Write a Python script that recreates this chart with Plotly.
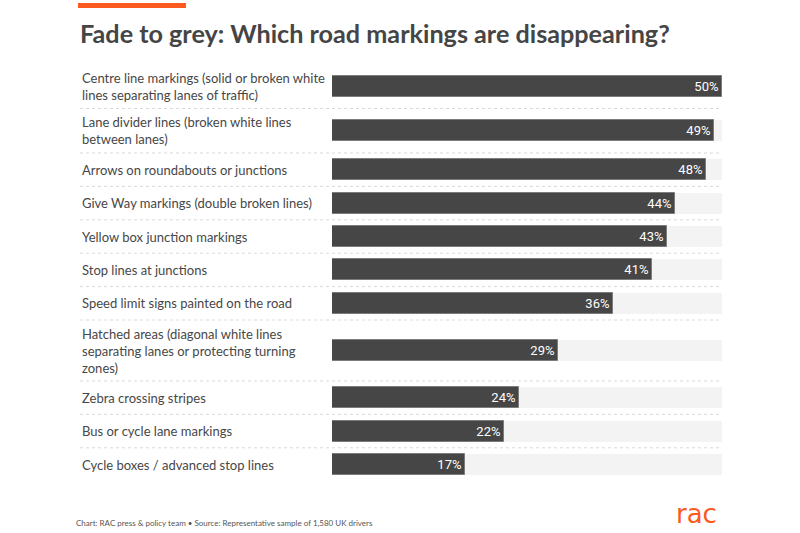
import plotly.graph_objects as go

# ---- data ----
categories = [
    "Centre line markings (solid or broken white<br>lines separating lanes of traffic)",
    "Lane divider lines (broken white lines<br>between lanes)",
    "Arrows on roundabouts or junctions",
    "Give Way markings (double broken lines)",
    "Yellow box junction markings",
    "Stop lines at junctions",
    "Speed limit signs painted on the road",
    "Hatched areas (diagonal white lines<br>separating lanes or protecting turning<br>zones)",
    "Zebra crossing stripes",
    "Bus or cycle lane markings",
    "Cycle boxes / advanced stop lines",
]
values = [50, 49, 48, 44, 43, 41, 36, 29, 24, 22, 17]
value_labels = [f"{v}%" for v in values]

title = "Fade to grey: Which road markings are disappearing?"
footer = "Chart: RAC press & policy team \u2022 Source: Representative sample of 1,580 UK drivers"

# ---- layout parameters ----
W, H = 800, 533
TOP = 64.0          # top of the first row (px)
LINE_H = 16.5
PAD = 11.5
MIN_ROW = 33.4
BAR_T = 21
X0_PX, X1_PX = 332, 722
LABEL_X_PX = 80

DARK = "#464646"
TRACK = "#f3f3f3"
ORANGE = "#fa5a1e"
TEXT = "#474747"

# row geometry derived from label line counts (y axis unit = 1 px)
row_heights = [max(MIN_ROW, LINE_H * (c.count("<br>") + 1) + PAD) for c in categories]
centers, bounds = [], []
y = TOP
for h in row_heights:
    centers.append(y + h / 2)
    y += h
    bounds.append(y)

vmax = max(values)

fig = go.Figure()
fig.add_trace(go.Bar(
    x=[vmax] * len(values), y=centers, orientation="h", width=BAR_T,
    marker=dict(color=TRACK, line=dict(width=0)), hoverinfo="skip", showlegend=False,
))
fig.add_trace(go.Bar(
    x=values, y=centers, orientation="h", width=BAR_T,
    marker=dict(color=DARK, line=dict(color="#7c7c7c", width=1)),
    text=value_labels, textposition="inside", insidetextanchor="end",
    textfont=dict(family="Roboto", size=13, color="white"),
    cliponaxis=False, showlegend=False,
))

shapes = []
# separators between rows
for b in bounds[:-1]:
    shapes.append(dict(type="line", xref="paper", yref="y",
                       x0=LABEL_X_PX / W, x1=X1_PX / W, y0=b, y1=b,
                       line=dict(color="#d9d9d9", width=1, dash="dot")))
# orange accent line at the top
shapes.append(dict(type="rect", xref="paper", yref="paper",
                   x0=78 / W, x1=186 / W, y0=1 - 3 / H, y1=1 - 8 / H,
                   fillcolor=ORANGE, line=dict(width=0)))

annotations = []
for c, yc in zip(categories, centers):
    annotations.append(dict(text=c, xref="paper", yref="y", x=LABEL_X_PX / W, y=yc,
                            xanchor="left", yanchor="middle", align="left", showarrow=False,
                            font=dict(family="Lato", size=13, color=TEXT)))
annotations.append(dict(text="<b>" + title + "</b>", xref="paper", yref="paper",
                        x=78 / W, y=1 - 33 / H, xanchor="left", yanchor="middle",
                        showarrow=False, font=dict(family="Lato", size=25.2, color="#454545")))
annotations.append(dict(text=footer, xref="paper", yref="paper",
                        x=74 / W, y=1 - 523 / H, xanchor="left", yanchor="middle",
                        showarrow=False, font=dict(family="Lato", size=8, color="#555555")))
annotations.append(dict(text="rac", xref="paper", yref="paper",
                        x=719 / W, y=1 - 514 / H, xanchor="right", yanchor="middle",
                        showarrow=False, font=dict(family="DejaVu Sans", size=26, color=ORANGE)))

fig.update_layout(
    width=W, height=H, margin=dict(l=0, r=0, t=0, b=0),
    paper_bgcolor="white", plot_bgcolor="white",
    barmode="overlay", bargap=0,
    xaxis=dict(domain=[X0_PX / W, X1_PX / W], range=[0, vmax], visible=False, fixedrange=True),
    yaxis=dict(domain=[0, 1], range=[H, 0], visible=False, fixedrange=True),
    shapes=shapes, annotations=annotations,
)

fig.write_html("out.html", config={"displayModeBar": False},
               post_script="document.body.style.margin='0px';document.body.style.overflow='hidden';")
